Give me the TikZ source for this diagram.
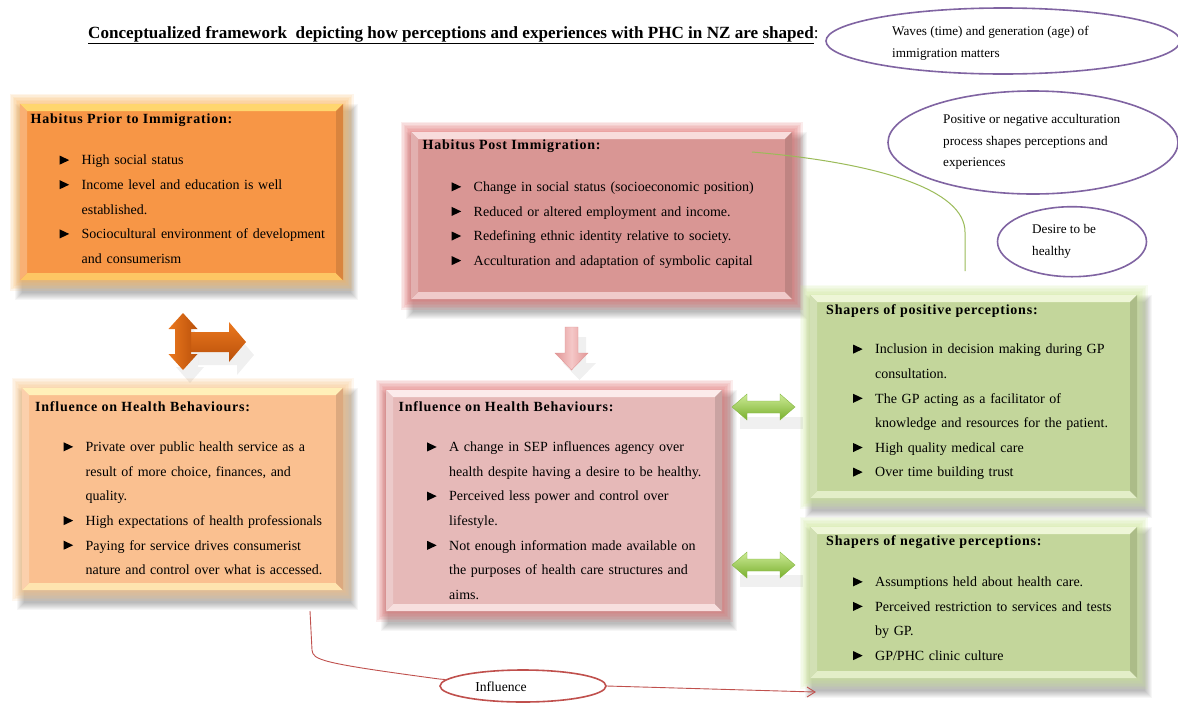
\documentclass[tikz,border=0pt]{standalone}
\usepackage{fontspec}
\setmainfont{Liberation Serif}
\newfontfamily\hdfont[LetterSpace=5.5]{Liberation Serif}
\usetikzlibrary{shapes.geometric}
\definecolor{orgfill}{RGB}{247,150,70}
\definecolor{orgbev}{RGB}{255,214,110}
\definecolor{orgglow}{RGB}{252,180,90}
\definecolor{pkfill}{RGB}{217,150,148}
\definecolor{pkbev}{RGB}{248,220,220}
\definecolor{pkglow}{RGB}{225,105,105}
\definecolor{lofill}{RGB}{250,192,144}
\definecolor{lobev}{RGB}{255,240,185}
\definecolor{loglow}{RGB}{250,195,130}
\definecolor{lpfill}{RGB}{230,185,184}
\definecolor{lpbev}{RGB}{252,235,235}
\definecolor{lpglow}{RGB}{225,110,110}
\definecolor{gnfill}{RGB}{195,214,155}
\definecolor{gnbev}{RGB}{238,246,215}
\definecolor{gnglow}{RGB}{205,232,150}
\definecolor{purp}{RGB}{128,100,162}
\definecolor{redl}{RGB}{192,80,77}
\definecolor{grnl}{RGB}{155,187,89}
\definecolor{orD}{RGB}{185,80,10}
\definecolor{orL}{RGB}{235,120,30}
\definecolor{gaL}{RGB}{205,235,150}
\definecolor{gaD}{RGB}{120,175,45}
\definecolor{paL}{RGB}{245,200,200}
\definecolor{paD}{RGB}{225,150,150}

\newcommand{\tri}{\raisebox{0.3pt}{\tikz[x=1pt,y=1pt]\fill[black] (0,0)--(0,9)--(9.5,4.5)--cycle;}}
\newcommand{\bitem}[1]{\hangindent=22pt\hangafter=1\noindent\makebox[22pt][l]{\tri}#1\par}

\newcommand{\fbx}[8]{%
 \foreach \i in {1,...,8}{\fill[black,opacity=0.035] ({#2+3-\i},{#3+8-\i}) rectangle ({#4+7+\i},{#5+12+\i});}
 \foreach \i in {1,...,7}{\fill[#8,opacity=0.12] ({#2-1.5*\i},{#3-1.5*\i}) rectangle ({#4+1.5*\i},{#5+1.5*\i});}
 \node[boxbase,fill=#6,minimum width={(#4-#2)*1pt},minimum height={(#5-#3)*1pt}] (#1) at ({(#2+#4)/2},{(#3+#5)/2}) {};
 \fill[#7] (#1.north west) -- (#1.north east) -- ([shift={(-7,7)}]#1.north east) -- ([shift={(7,7)}]#1.north west) -- cycle;
 \fill[#7!75!#6] (#1.south west) -- (#1.south east) -- ([shift={(-7,-7)}]#1.south east) -- ([shift={(7,-7)}]#1.south west) -- cycle;
 \fill[#6!88!black] (#1.north east) -- (#1.south east) -- ([shift={(-7,-7)}]#1.south east) -- ([shift={(-7,7)}]#1.north east) -- cycle;
 \fill[#6!75!white] (#1.north west) -- (#1.south west) -- ([shift={(7,-7)}]#1.south west) -- ([shift={(7,7)}]#1.north west) -- cycle;
}

\begin{document}
\begin{tikzpicture}[x=1pt,y=-1pt,
  boxbase/.style={draw=none,inner sep=0pt,outer sep=0pt},
  hd/.style={anchor=base west,inner sep=0pt,font=\hdfont\bfseries\fontsize{14}{24.6}\selectfont},
  lst/.style={anchor=north west,inner sep=0pt,text width=420pt,font=\raggedright\fontsize{14}{24.6}\selectfont},
  eltext/.style={anchor=north west,inner sep=0pt,align=left,font=\fontsize{13.2}{21.7}\selectfont},
  pell/.style={ellipse,draw=purp,line width=1.6pt,inner sep=0pt},
  rell/.style={ellipse,draw=redl,line width=1.6pt,inner sep=0pt},
  arrsh/.style={fill=black,opacity=0.06}
]
\useasboundingbox (0,0) rectangle (1178,702);
\fill[white] (0,0) rectangle (1178,702);

% title
\node[anchor=base west,inner sep=0pt,font=\bfseries\fontsize{17.1}{18}\selectfont] (title) at (88,38.5)
  {\underline{Conceptualized framework\ \ depicting how perceptions and experiences with PHC in NZ are shaped}\textmd{:}};

% boxes
\fbx{b1}{20}{104}{343}{280}{orgfill}{orgbev}{orgglow}
\fbx{b2}{411}{132}{792}{299}{pkfill}{pkbev}{pkglow}
\fbx{b3}{22}{388}{343}{590}{lofill}{lobev}{loglow}
\fbx{b4}{386}{390}{722}{611}{lpfill}{lpbev}{lpglow}
\fbx{b5}{810}{295}{1137}{498}{gnfill}{gnbev}{gnglow}
\fbx{b6}{810}{527}{1137}{678}{gnfill}{gnbev}{gnglow}

% box texts
\node[hd] (h1) at (30.5,123.8) {Habitus Prior to Immigration:};
\node[lst] (l1) at (59.5,155) {%
 \bitem{High social status}
 \bitem{Income level and education is well\newline established.}
 \bitem{Sociocultural environment of development\newline and consumerism}};

\node[hd] (h2) at (422.5,149.5) {Habitus Post Immigration:};
\node[lst] (l2) at (451.5,181.7) {%
 \bitem{Change in social status (socioeconomic position)}
 \bitem{Reduced or altered employment and income.}
 \bitem{Redefining ethnic identity relative to society.}
 \bitem{Acculturation and adaptation of symbolic capital}};

\node[hd] (h3) at (35,411.2) {Influence on Health Behaviours:};
\node[lst] (l3) at (63.5,441.7) {%
 \bitem{Private over public health service as a\newline result of more choice, finances, and\newline quality.}
 \bitem{High expectations of health professionals}
 \bitem{Paying for service drives consumerist\newline nature and control over what is accessed.}};

\node[hd] (h4) at (398.5,411.2) {Influence on Health Behaviours:};
\node[lst] (l4) at (427,441.7) {%
 \bitem{A change in SEP influences agency over\newline health despite having a desire to be healthy.}
 \bitem{Perceived less power and control over\newline lifestyle.}
 \bitem{Not enough information made available on\newline the purposes of health care structures and\newline aims.}};

\node[hd] (h5) at (826,314.5) {Shapers of positive perceptions:};
\node[lst] (l5) at (853,344) {%
 \bitem{Inclusion in decision making during GP\newline consultation.}
 \bitem{The GP acting as a facilitator of\newline knowledge and resources for the patient.}
 \bitem{High quality medical care}
 \bitem{Over time building trust}};

\node[hd] (h6) at (826,545.2) {Shapers of negative perceptions:};
\node[lst] (l6) at (853,576.7) {%
 \bitem{Assumptions held about health care.}
 \bitem{Perceived restriction to services and tests\newline by GP.}
 \bitem{GP/PHC clinic culture}};

% ellipses
\node[pell,minimum width=354,minimum height=66] (e1) at (1003,41) {};
\node[eltext] (e1t) at (892,26) {Waves (time) and generation (age) of\\immigration matters};
\node[pell,minimum width=290,minimum height=103] (e2) at (1033,142.5) {};
\node[eltext] (e2t) at (943,114) {Positive or negative acculturation\\process shapes perceptions and\\experiences};
\node[pell,minimum width=149,minimum height=70] (e3) at (1072,241.7) {};
\node[eltext] (e3t) at (1032,224.5) {Desire to be\\healthy};
\node[rell,minimum width=166,minimum height=32] (e4) at (523,686) {};
\node[inner sep=0pt,font=\fontsize{13.6}{15}\selectfont] (e4t) at (501,687) {Influence};

% connectors
\coordinate (g0) at (752,152);
\coordinate (g1) at (965,271);
\draw[grnl,line width=1pt] (g0) .. controls (880,163) and (965,190) .. (965,232) -- (g1);
\coordinate (r0) at (310,611);
\coordinate (r1) at (815,692);
\draw[redl,line width=0.9pt] (r0) -- (312,650) .. controls (313,660) and (320,663) .. (e4.west|-0,679) -- (e4);
\draw[redl,line width=0.9pt] (e4.east) -- (r1);
\draw[redl,line width=0.9pt] (807,687) -- (r1) -- (807,697);

% orange arrow
\fill[arrsh] (190,326) -- (204,342) -- (198,342) -- (198,367) -- (204,367) -- (190,383) -- (176,367) -- (182,367) -- cycle;
\fill[arrsh] (198,345) -- (237,345) -- (237,335) -- (254,355) -- (237,375) -- (237,365) -- (198,365) -- cycle;
\shade[top color=orL,bottom color=orD] (190,332) -- (229,332) -- (229,322) -- (246,342) -- (229,362) -- (229,352) -- (190,352) -- cycle;
\shade[left color=orL,right color=orD] (183,313) -- (197.5,329) -- (191,329) -- (191,354) -- (197.5,354) -- (183,370) -- (168.5,354) -- (175,354) -- (175,329) -- (168.5,329) -- cycle;

% pink arrow
\fill[arrsh] (573,337) -- (586,337) -- (586,363) -- (596,363) -- (579.5,380) -- (563,363) -- (573,363) -- cycle;
\shade[left color=paD,right color=paD,middle color=paL,draw=paD] (565,327) -- (578,327) -- (578,353) -- (588,353) -- (571.5,370) -- (555,353) -- (565,353) -- cycle;

% green arrows
\foreach \c/\n in {407/ga1,565/ga2}{
 \fill[arrsh] (740,\c+10) -- (803,\c+10) -- (803,\c+22) -- (740,\c+22) -- cycle;
 \shade[top color=gaL,bottom color=gaD,draw=gaD!90!white,line width=0.4pt] (732,\c) -- (747,\c-13) -- (747,\c-6) -- (780,\c-6) -- (780,\c-13) -- (795,\c) -- (780,\c+13) -- (780,\c+6) -- (747,\c+6) -- (747,\c+13) -- cycle;
}
\end{tikzpicture}
\end{document}
